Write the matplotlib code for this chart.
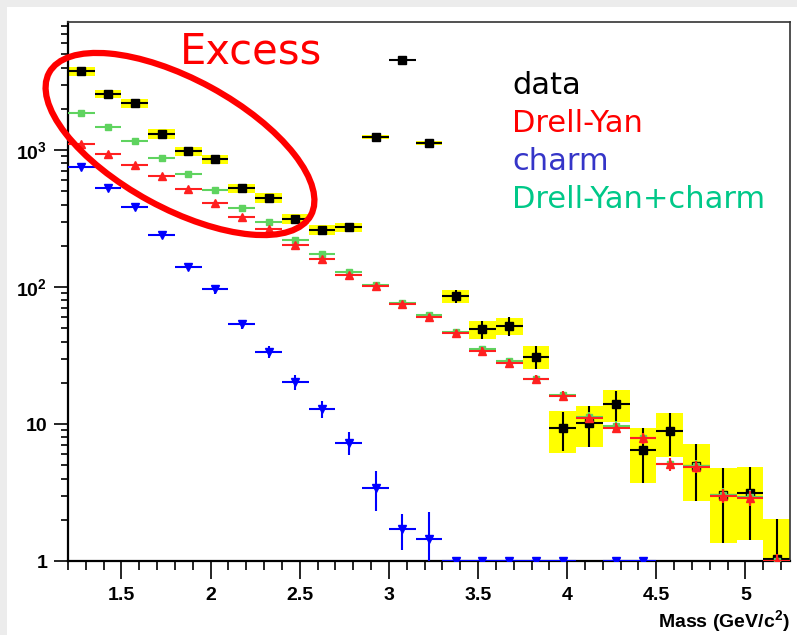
import numpy as np
import matplotlib
matplotlib.use("Agg")
import matplotlib.pyplot as plt
from matplotlib.patches import Ellipse, Rectangle
from matplotlib.ticker import (FixedLocator, MultipleLocator, NullFormatter, LogLocator,
                               FormatStrFormatter)

plt.rcParams['mathtext.fontset'] = 'custom'
plt.rcParams['mathtext.rm'] = 'Liberation Sans:bold'
plt.rcParams['mathtext.it'] = 'Liberation Sans:bold'
plt.rcParams['mathtext.bf'] = 'Liberation Sans:bold'

# bins of 0.15 GeV/c^2 from 1.2 to 5.25
mass = np.arange(1.275, 5.25, 0.15)
half_width = 0.075

data = [3770, 2560, 2190, 1316, 984, 855, 525, 449, 315, 262, 274, 1250, 4520, 1119,
        86, 49, 52, 31, 9.3, 10.2, 14.0, 6.5, 8.9, 4.96, 3.05, 3.12, 1.03]
data_stat = [61, 51, 47, 36, 31, 29, 23, 21, 18, 16, 17, 35, 67, 33,
             9.3, 7.5, 8.0, 6.0, 3.0, 3.4, 3.5, 2.8, 3.1, 2.2, 1.7, 1.7, 1.0]
data_sys = [280, 180, 150, 110, 75, 63, 40, 37, 27, 21, 21, 42, 0, 38,
            9, 7.4, 7.7, 6, 3.2, 3.4, 3.7, 2.8, 3.2, 2.2, 1.7, 1.7, 1.0]

drell_yan = [1107, 940, 781, 649, 519, 410, 323, 265, 203, 160, 122, 101, 75, 60.7,
             45.9, 34.3, 28, 21.2, 16.1, 11.0, 9.4, 7.86, 5.1, 4.88, 2.98, 2.88, 1.0]
drell_yan_err = [20, 18, 15, 13, 11, 9, 8, 7, 6, 5, 4.2, 3.8, 3.2, 2.8,
                 2.3, 2.0, 1.7, 1.4, 1.2, 0.9, 0.8, 0.7, 0.55, 0.5, 0.35, 0.35, 0.12]

dy_charm = [1853, 1465, 1170, 869, 668, 511, 378, 298, 221, 173, 129, 103, 76.8, 62.5,
            46.7, 35, 28.6, 21.4, 16.3, 11.3, 9.7, 7.9, 5.1, 4.96, 3.05, 2.95, 1.0]
dy_charm_err = [30, 26, 22, 18, 15, 12, 10, 8.5, 7, 6, 4.8, 4.0, 3.3, 2.9,
                2.4, 2.0, 1.7, 1.4, 1.2, 0.9, 0.8, 0.7, 0.55, 0.5, 0.35, 0.35, 0.12]

charm = [755, 531, 382, 241, 141, 96, 53.4, 33.7, 20.3, 12.9, 7.3, 3.43, 1.70, 1.44,
         1, 1, 1, 1, 1, np.nan, 1, 1, np.nan, np.nan, np.nan, np.nan, np.nan]
charm_err = [25, 20, 16, 12, 9, 7, 4.2, 3.5, 2.6, 1.9, 1.4, 1.1, 0.5, 0.85,
             0, 0, 0, 0, 0, 0, 0, 0, 0, 0, 0, 0, 0]

legend_labels = ["data", "Drell-Yan", "charm", "Drell-Yan+charm"]
legend_colors = ["black", "#ff0000", "#3535c8", "#00c888"]

fig = plt.figure(figsize=(7.97, 6.35), dpi=100)
fig.patch.set_facecolor('#ececec')
fig.patches.append(Rectangle((7 / 797, 0), 1, 1 - 7 / 635, transform=fig.transFigure,
                             facecolor='white', edgecolor='none', zorder=-5))

ax = fig.add_axes([68 / 797, 1 - 561 / 635, 722 / 797, 539 / 635])
ax.set_yscale('log')
ax.set_xlim(1.2, 5.25)
ax.set_ylim(1, 8600)

# systematic boxes
sys_lo = np.array(data) - np.array(data_sys)
ax.bar(mass, 2 * np.array(data_sys), bottom=sys_lo, width=0.15,
       color='#ffff00', edgecolor='none', zorder=1)

ax.errorbar(mass, data, xerr=half_width, yerr=data_stat, fmt='s', color='black',
            ms=6, lw=1.5, capsize=0, zorder=2)
ax.errorbar(mass, dy_charm, xerr=half_width, yerr=dy_charm_err, fmt='s', color='#5fd35f',
            ms=5, lw=1.5, capsize=0, zorder=3)
ax.errorbar(mass, drell_yan, xerr=half_width, yerr=drell_yan_err, fmt='^', color='#ff2020',
            ms=5.5, lw=1.5, capsize=0, zorder=4)
ax.errorbar(mass, charm, xerr=half_width, yerr=charm_err, fmt='v', color='#0000ff',
            ms=5.5, lw=1.5, capsize=0, zorder=5)

ax.yaxis.set_major_locator(FixedLocator([1, 10, 100, 1000]))
ax.set_yticklabels(['1', '10', r'$10^{2}$', r'$10^{3}$'])
ax.yaxis.set_minor_locator(LogLocator(base=10, subs=np.arange(2, 10)))
ax.yaxis.set_minor_formatter(NullFormatter())
ax.xaxis.set_major_locator(MultipleLocator(0.5))
ax.xaxis.set_major_formatter(FormatStrFormatter('%g'))
ax.xaxis.set_minor_locator(MultipleLocator(0.1))

ax.tick_params(axis='y', which='major', direction='out', length=10, width=1.2, pad=5,
               labelsize=14)
ax.tick_params(axis='y', which='minor', direction='out', length=5, width=1.2)
ax.tick_params(axis='x', which='major', direction='out', length=13, width=1.2, pad=6,
               labelsize=14)
ax.tick_params(axis='x', which='minor', direction='out', length=6.5, width=1.2)
for lab in ax.get_xticklabels() + ax.get_yticklabels():
    lab.set_fontfamily('Liberation Sans')
    lab.set_fontweight('bold')

for side in ['left', 'bottom']:
    ax.spines[side].set_linewidth(1.6)
for side in ['top', 'right']:
    ax.spines[side].set_linewidth(1.2)
    ax.spines[side].set_color('#333333')

fig.text(790 / 797, 1 - 627 / 635, r'Mass (GeV/c$^{2}$)', ha='right', va='baseline',
         fontsize=14, fontweight='bold', family='Liberation Sans')

fig.text(180 / 797, 1 - 64 / 635, 'Excess', color='#ff0000', fontsize=30,
         ha='left', va='baseline', family='DejaVu Sans')

for i, (lab, col) in enumerate(zip(legend_labels, legend_colors)):
    fig.text(512 / 797, 1 - (94 + 38 * i) / 635, lab, color=col, fontsize=22,
             ha='left', va='baseline', family='DejaVu Sans')

fig.patches.append(Ellipse((1.80, 6.35 - 1.44), 2.98, 1.29, angle=-28.6,
                           transform=fig.dpi_scale_trans, fill=False,
                           edgecolor='#ff0000', lw=4.5, zorder=10))

fig.savefig('out.png', dpi=100, facecolor=fig.get_facecolor())
